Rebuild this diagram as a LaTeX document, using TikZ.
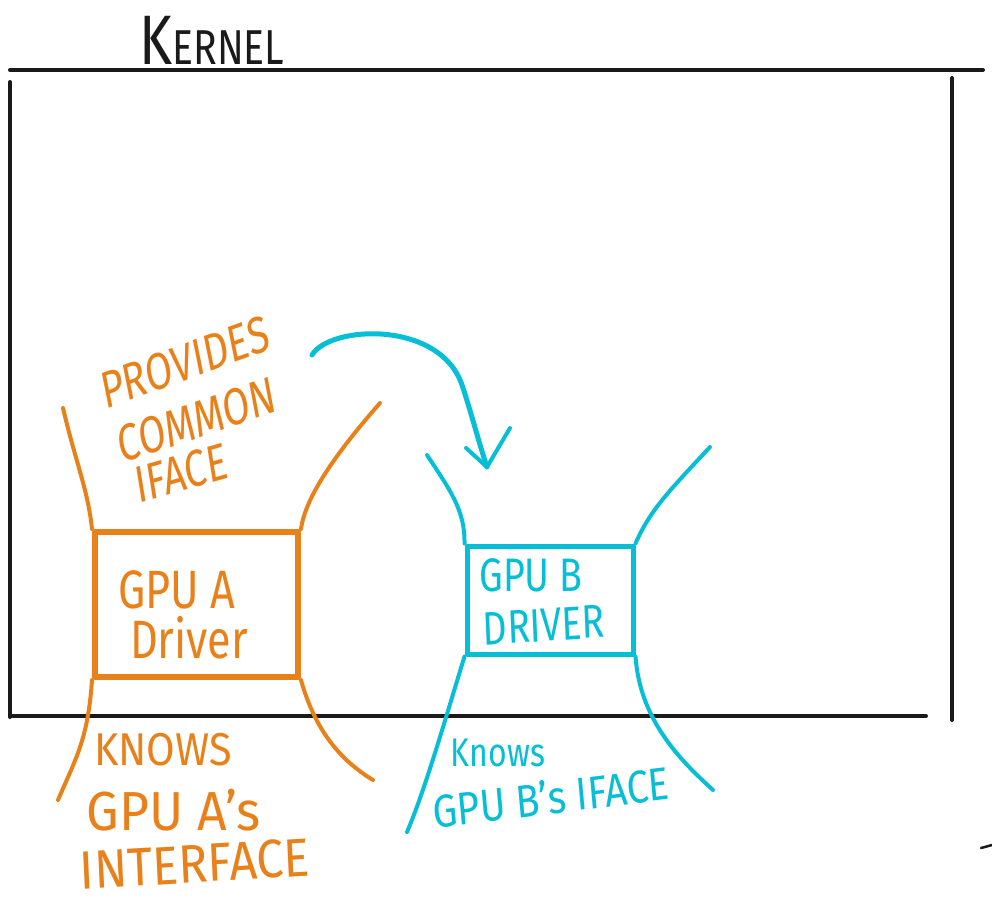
\documentclass[tikz,border=0pt]{standalone}
\usepackage{fontspec}
\setmainfont{Fira Sans}
\definecolor{orng}{HTML}{E9811B}
\definecolor{cyn}{HTML}{06BED5}
\definecolor{ink}{HTML}{1A1A1A}
\begin{document}
\begin{tikzpicture}[x=1pt,y=-1pt,line cap=round,line join=round,
  frame/.style={draw=ink,line width=4pt},
  olin/.style={draw=orng,line width=4pt},
  clin/.style={draw=cyn,line width=4pt},
  obox/.style={draw=orng,line width=6pt,minimum width=203pt,minimum height=145pt,text=orng,align=center,inner sep=0pt},
  cbox/.style={draw=cyn,line width=5pt,minimum width=166pt,minimum height=108pt,text=cyn,align=center,inner sep=0pt},
  provtxt/.style={font=\fontsize{52}{52}\selectfont,xscale=0.75,inner sep=0pt,text=orng},
  atxt/.style={font=\fontsize{54}{54}\selectfont,xscale=0.8,inner sep=0pt,text=orng},
  btxt/.style={font=\fontsize{47}{47}\selectfont,xscale=0.8,inner sep=0pt,text=cyn}]
\useasboundingbox (0,0) rectangle (992,906);

% frame
\node[text=ink,font=\fontsize{70}{70}\selectfont,xscale=0.8,inner sep=0pt] (kern) at (212,40) {K{\fontsize{49}{49}\selectfont ERNEL}};
\coordinate (tl) at (10,70);
\coordinate (tr) at (983,70);
\coordinate (lt) at (10,82);
\coordinate (lb) at (10,717);
\coordinate (bl) at (10,716);
\coordinate (br) at (926,716);
\coordinate (rt) at (952,78);
\coordinate (rb) at (952,720);
\coordinate (m1) at (981,848);
\coordinate (m2) at (992,845);
\draw[frame] (tl) -- (tr);
\draw[frame] (lt) -- (lb);
\draw[frame] (bl) -- (br);
\draw[frame] (rt) -- (rb);
\draw[ink,line width=2.5pt] (m1) -- (m2);

% GPU A
\node[obox] (ga) at (196.5,604.5) {};
\node[atxt] (gat) at (177,590) {GPU A};
\node[atxt] (gad) at (189,638) {Driver};
\coordinate (a1) at (63,408);
\coordinate (a2) at (380,403);
\coordinate (a3) at (58,800);
\coordinate (a4) at (373,780);
\draw[olin] (a1) .. controls (75,460) and (88,490) .. (ga.north west);
\draw[olin] (a2) .. controls (330,460) and (305,500) .. (ga.north east);
\draw[olin] (ga.south west) .. controls (88,740) and (75,760) .. (a3);
\draw[olin] (ga.south east) .. controls (315,730) and (340,760) .. (a4);
\node[provtxt,rotate=15] (p1) at (185,362) {PROVIDES};
\node[provtxt,rotate=14] (p2) at (197,420) {COMMON};
\node[provtxt,rotate=12] (p3) at (181,473) {IFACE};
\node[font=\fontsize{46}{46}\selectfont,xscale=0.9,inner sep=0pt,text=orng] (k1) at (163,750) {KNOWS};
\node[font=\fontsize{55}{55}\selectfont,xscale=0.94,inner sep=0pt,text=orng] (k2) at (174,810) {GPU A's};
\node[font=\fontsize{54}{54}\selectfont,xscale=0.9,inner sep=0pt,text=orng,rotate=3] (k3) at (195,864) {INTERFACE};

% GPU B
\node[cbox] (gb) at (550,600) {};
\node[btxt] (gbt) at (531,575) {GPU B};
\node[btxt,rotate=3] (gbd) at (544,625) {DRIVER};
\coordinate (b1) at (427,455);
\coordinate (b2) at (710,447);
\coordinate (b3) at (407,832);
\coordinate (b4) at (713,790);
\draw[clin] (b1) .. controls (450,490) and (465,510) .. (gb.north west);
\draw[clin] (b2) .. controls (670,490) and (650,510) .. (gb.north east);
\draw[clin] (gb.south west) .. controls (445,720) and (425,790) .. (b3);
\draw[clin] (gb.south east) .. controls (640,720) and (680,760) .. (b4);
\node[font=\fontsize{40}{40}\selectfont,xscale=0.8,inner sep=0pt,text=cyn] (kb1) at (498,753) {Knows};
\node[font=\fontsize{46}{46}\selectfont,xscale=0.85,inner sep=0pt,text=cyn,rotate=6] (kb2) at (551,797) {GPU B's IFACE};

% arrow
\coordinate (s) at (312,355);
\coordinate (tip) at (487,467);
\coordinate (hl) at (466,448);
\coordinate (hr) at (510,428);
\draw[cyn,line width=5pt] (s) .. controls (330,325) and (440,320) .. (462,385) .. controls (472,415) and (478,440) .. (tip);
\draw[cyn,line width=4pt] (hl) -- (tip) -- (hr);
\end{tikzpicture}
\end{document}
